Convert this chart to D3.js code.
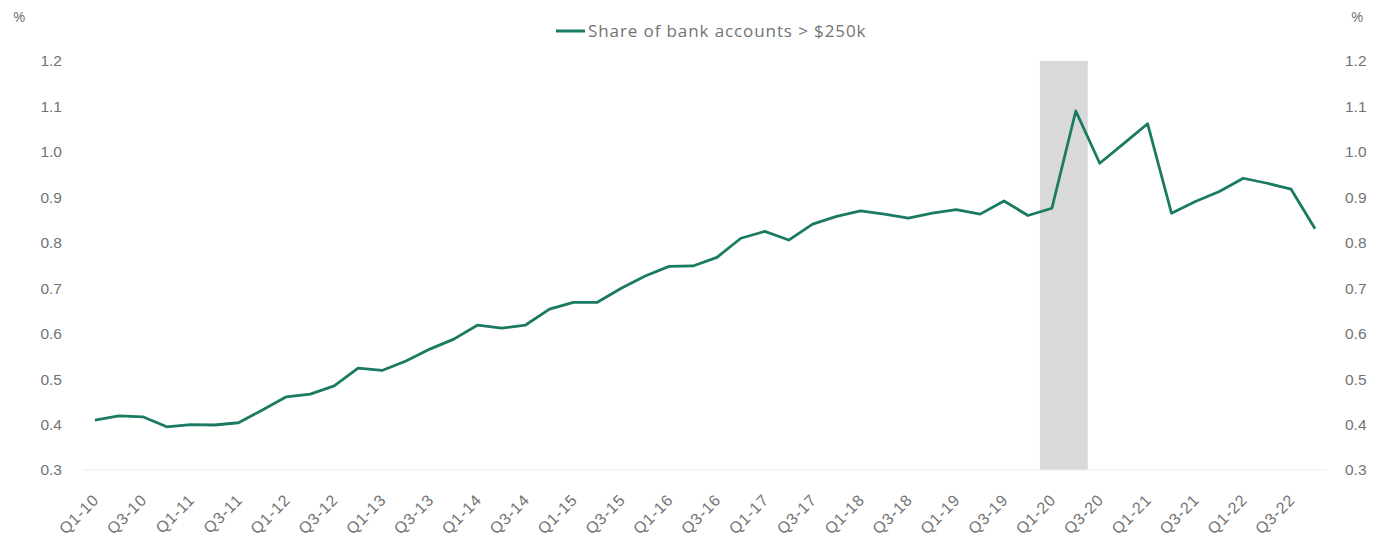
<!DOCTYPE html>
<html>
<head>
<meta charset="utf-8">
<script src="https://cdn.jsdelivr.net/npm/d3@7/dist/d3.min.js"></script>
<style>
  html, body { margin: 0; padding: 0; background: #fff; }
  svg { display: block; font-family: "Open Sans", "Noto Sans", sans-serif; }
</style>
</head>
<body>
<svg id="chart" width="1376" height="539"></svg>
<script>
// Quarterly categories Q1-10 .. Q4-22
const years = d3.range(10, 23);
const quarters = years.flatMap(y => [1, 2, 3, 4].map(q => `Q${q}-${y}`));

// Share of bank accounts above $250k, in %
const shareValues = [
  0.410, 0.419, 0.417, 0.395, 0.400, 0.399, 0.404, 0.432,
  0.461, 0.467, 0.485, 0.524, 0.519, 0.540, 0.566, 0.588,
  0.619, 0.612, 0.619, 0.654, 0.669, 0.669, 0.700, 0.727,
  0.748, 0.749, 0.768, 0.810, 0.825, 0.806, 0.841, 0.858,
  0.870, 0.863, 0.854, 0.865, 0.873, 0.863, 0.892, 0.860,
  0.876, 1.090, 0.975, 1.018, 1.062, 0.865, 0.891, 0.913,
  0.942, 0.931, 0.918, 0.831
];

// Shaded recession period
const shadedQuarters = ["Q1-20", "Q2-20"];

const yTicks = [0.3, 0.4, 0.5, 0.6, 0.7, 0.8, 0.9, 1.0, 1.1, 1.2];
const xTickLabels = quarters.filter(q => q.startsWith("Q1") || q.startsWith("Q3"));

const seriesName = "Share of bank accounts > $250k";
const lineColor = "#1b7a62";
const textColor = "#737373";

const svg = d3.select("#chart");
const plot = { left: 83, right: 1327, top: 61, bottom: 470 };

const x = d3.scaleBand().domain(quarters).range([plot.left, plot.right]).padding(0);
const y = d3.scaleLinear().domain([0.3, 1.2]).range([plot.bottom, plot.top]);
const cx = q => x(q) + x.bandwidth() / 2;

// shaded band
svg.append("rect")
  .attr("x", x(shadedQuarters[0]))
  .attr("y", y(1.2))
  .attr("width", x.bandwidth() * shadedQuarters.length)
  .attr("height", y(0.3) - y(1.2))
  .attr("fill", "#d9d9d9");

// baseline
svg.append("line")
  .attr("x1", plot.left).attr("x2", plot.right)
  .attr("y1", y(0.3)).attr("y2", y(0.3))
  .attr("stroke", "#ececec").attr("stroke-width", 1);

// left axis
const leftAxis = svg.append("g")
  .attr("transform", `translate(${plot.left - 21},0)`)
  .call(d3.axisLeft(y).tickValues(yTicks).tickFormat(d3.format(".1f")).tickSize(0).tickPadding(0));
leftAxis.select(".domain").remove();
leftAxis.selectAll("text").attr("fill", textColor).attr("font-size", 15.5);

// right axis
const rightAxis = svg.append("g")
  .attr("transform", `translate(${plot.right + 18},0)`)
  .call(d3.axisRight(y).tickValues(yTicks).tickFormat(d3.format(".1f")).tickSize(0).tickPadding(0));
rightAxis.select(".domain").remove();
rightAxis.selectAll("text").attr("fill", textColor).attr("font-size", 15.5);

// unit labels
svg.append("text").attr("x", 13).attr("y", 22).text("%")
  .attr("fill", textColor).attr("font-size", 15);
svg.append("text").attr("x", 1351).attr("y", 22).text("%")
  .attr("fill", textColor).attr("font-size", 15);

// bottom axis
const bottomAxis = svg.append("g")
  .attr("transform", `translate(0,${plot.bottom})`)
  .call(d3.axisBottom(x).tickValues(xTickLabels).tickSize(0).tickPadding(0));
bottomAxis.select(".domain").remove();
bottomAxis.selectAll("text")
  .attr("fill", textColor)
  .attr("font-size", 16)
  .attr("letter-spacing", 0.8)
  .attr("text-anchor", "end")
  .attr("dy", null)
  .attr("transform", "translate(5,31) rotate(-45)");

// series line
const line = d3.line()
  .x((d, i) => cx(quarters[i]))
  .y(d => y(d));

svg.append("path")
  .datum(shareValues)
  .attr("d", line)
  .attr("fill", "none")
  .attr("stroke", lineColor)
  .attr("stroke-width", 2.8)
  .attr("stroke-linejoin", "round");

// legend
const legend = svg.append("g").attr("transform", "translate(556,31)");
legend.append("line").attr("x1", 0).attr("x2", 29).attr("y1", 0).attr("y2", 0)
  .attr("stroke", lineColor).attr("stroke-width", 3);
legend.append("text").attr("x", 32).attr("y", 6).text(seriesName)
  .attr("fill", textColor).attr("font-size", 17).attr("letter-spacing", 0.9);
</script>
</body>
</html>
